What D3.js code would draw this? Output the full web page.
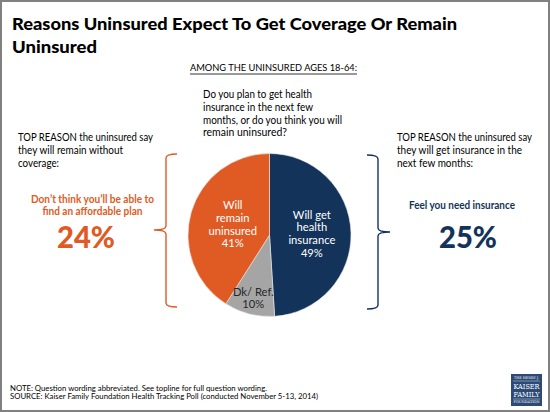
<!DOCTYPE html>
<html><head><meta charset="utf-8">
<script src="https://cdn.jsdelivr.net/npm/d3@7"></script>
<style>html,body{margin:0;padding:0;background:#fff;}svg{display:block;}</style>
</head><body>
<script>
// ---- data ----
const categories = ["Will get health insurance", "Dk/ Ref.", "Will remain uninsured"];
const values = [49, 10, 41];
const sliceLabelLines = [["Will get", "health", "insurance"], ["Dk/ Ref."], ["Will", "remain", "uninsured"]];
const sliceColors = ["#14335A", "#A5A5A5", "#E05A24"];
const sliceTextColors = ["#ffffff", "#262626", "#ffffff"];
const leftReasonText = ["Don\u2019t think you\u2019ll be able to", "find an affordable plan"];
const leftReasonValue = 24;
const rightReasonText = ["Feel you need insurance"];
const rightReasonValue = 25;

const W = 550, H = 412;
const FONT = "Lato, 'Open Sans', sans-serif";
const svg = d3.select("body").append("svg").attr("width", W).attr("height", H);
svg.append("rect").attr("x", 1).attr("y", 1).attr("width", W - 2).attr("height", H - 2)
  .attr("fill", "#fff").attr("stroke", "#808080").attr("stroke-width", 2);

function txt(x, y, s, o) {
  o = o || {};
  const t = svg.append("text").attr("x", x).attr("y", y).attr("dy", "0.35em")
    .attr("font-family", o.family || FONT).attr("font-size", o.size || 10.5)
    .attr("font-weight", o.weight || "normal").attr("fill", o.fill || "#1a1a1a")
    .attr("text-anchor", o.anchor || "start").text(s);
  if (o.width) t.attr("textLength", o.width).attr("lengthAdjust", "spacingAndGlyphs");
  return t;
}

// title
txt(12, 23.5, "Reasons Uninsured Expect To Get Coverage Or Remain", {size: 17.8, weight: 900, width: 445, fill: "#000"});
txt(12, 46.5, "Uninsured", {size: 17.8, weight: 900, width: 85, fill: "#000"});

// subtitle
txt(273.5, 68, "AMONG THE UNINSURED AGES 18-64:", {size: 9.6, anchor: "middle", width: 167, fill: "#000"});
svg.append("line").attr("x1", 190).attr("x2", 357).attr("y1", 74).attr("y2", 74)
  .attr("stroke", "#000").attr("stroke-width", 0.8);

// question
const q = ["Do you plan to get health", "insurance in the next few", "months, or do you think you will", "remain uninsured?"];
const qW = [109, 110, 139, 84];
q.forEach((s, i) => txt(203, 94.3 + i * 12.8, s, {size: 10.6, width: qW[i], fill: "#000"}));

// side headers
const lh = ["TOP REASON the uninsured say", "they will remain without", "coverage:"];
const lhW = [135, 105, 41];
lh.forEach((s, i) => txt(18, 137 + i * 13.3, s, {size: 10.6, width: lhW[i], fill: "#000"}));
const rh = ["TOP REASON the uninsured say", "they will get insurance in the", "next few months:"];
const rhW = [135, 125, 76];
rh.forEach((s, i) => txt(397, 137 + i * 13.3, s, {size: 10.6, width: rhW[i], fill: "#000"}));

// reasons
const orange = sliceColors[2], navy = sliceColors[0];
const lrW = [123, 100];
leftReasonText.forEach((s, i) => txt(92.5, 199 + i * 12.5, s, {size: 10.6, weight: 700, anchor: "middle", fill: orange, width: lrW[i]}));
txt(86, 237.5, leftReasonValue + "%", {size: 31, weight: 900, anchor: "middle", fill: orange, width: 58});
rightReasonText.forEach((s, i) => txt(462, 205, s, {size: 10.6, weight: 700, anchor: "middle", fill: navy, width: 106}));
txt(468, 237.5, rightReasonValue + "%", {size: 31, weight: 900, anchor: "middle", fill: navy, width: 58});

// braces
function brace(x, yTop, yMid, yBot, dir, color) {
  const e = -dir * 11, tip = dir * 12;
  const p = d3.path();
  p.moveTo(x + e, yTop);
  p.quadraticCurveTo(x, yTop, x, yTop + 4);
  p.lineTo(x, yMid - 4);
  p.quadraticCurveTo(x, yMid, x + tip, yMid);
  p.quadraticCurveTo(x, yMid, x, yMid + 4);
  p.lineTo(x, yBot - 4);
  p.quadraticCurveTo(x, yBot, x + e, yBot);
  svg.append("path").attr("d", p.toString()).attr("fill", "none")
    .attr("stroke", color).attr("stroke-width", 1.4);
}
brace(166, 154, 230, 307, -1, orange);
brace(378, 155, 232, 309, 1, navy);

// pie
const cx = 269.5, cy = 235, R = 81.5;
const pie = d3.pie().sort(null).value(d => d)(values);
const arc = d3.arc().innerRadius(0).outerRadius(R);
const g = svg.append("g").attr("transform", `translate(${cx},${cy})`);
g.selectAll("path.slice").data(pie).enter().append("path").attr("class", "slice")
  .attr("d", arc).attr("fill", (d, i) => sliceColors[i])
  .attr("stroke", "#e8e8e8").attr("stroke-width", 0.6);
const labelR = [0.52, 0.8, 0.47];
pie.forEach((d, i) => {
  const a = (d.startAngle + d.endAngle) / 2;
  const r = labelR[i] * R;
  const lx = Math.sin(a) * r, ly = -Math.cos(a) * r;
  const lines = sliceLabelLines[i].concat([values[i] + "%"]);
  const step = 12.7;
  lines.forEach((s, j) => {
    g.append("text").attr("x", lx).attr("y", ly + (j - (lines.length - 1) / 2) * step)
      .attr("dy", "0.35em").attr("text-anchor", "middle")
      .attr("font-family", FONT).attr("font-size", 11.2)
      .attr("fill", sliceTextColors[i]).text(s);
  });
});

// footer
txt(10, 388, "NOTE: Question wording abbreviated. See topline for full question wording.", {size: 7.6, width: 257, fill: "#000"});
txt(10, 396.5, "SOURCE: Kaiser Family Foundation Health Tracking Poll (conducted November 5-13, 2014)", {size: 7.6, width: 308, fill: "#000"});

// logo
const lg = svg.append("g");
lg.append("rect").attr("x", 511).attr("y", 374).attr("width", 31).attr("height", 32).attr("fill", "#2C4A75");
const lf = "'DejaVu Serif', 'Liberation Serif', serif";
[["THE HENRY J.", 378, 3.4, 25], ["KAISER", 386, 8, 26], ["FAMILY", 394, 8, 26], ["FOUNDATION", 402, 3.4, 26]].forEach(d => {
  lg.append("text").attr("x", 526.5).attr("y", d[1]).attr("dy", "0.35em").attr("text-anchor", "middle")
    .attr("font-family", lf).attr("font-size", d[2]).attr("fill", "#fff")
    .attr("textLength", d[3]).attr("lengthAdjust", "spacingAndGlyphs").text(d[0]);
});
lg.append("line").attr("x1", 513).attr("x2", 540).attr("y1", 381).attr("y2", 381).attr("stroke", "#fff").attr("stroke-width", 0.4);
lg.append("line").attr("x1", 513).attr("x2", 540).attr("y1", 399).attr("y2", 399).attr("stroke", "#fff").attr("stroke-width", 0.4);
</script>
</body></html>
